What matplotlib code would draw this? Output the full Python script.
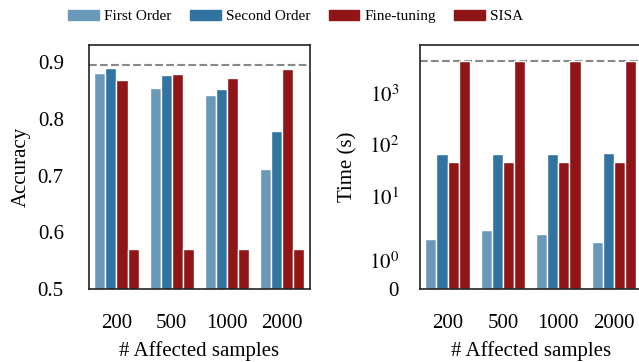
import matplotlib
matplotlib.use('Agg')
import matplotlib.pyplot as plt
import numpy as np
from matplotlib.patches import Patch

plt.rcParams['font.family'] = 'Liberation Serif'
plt.rcParams['mathtext.fontset'] = 'stix'

samples = ['200', '500', '1000', '2000']
methods = ['First Order', 'Second Order', 'Fine-tuning', 'SISA']
colors = ['#6a98b9', '#3274a1', '#8f1517', '#8f1517']

acc_first = [0.881, 0.855, 0.841, 0.712]
acc_second = [0.890, 0.877, 0.852, 0.779]
acc_finetune = [0.869, 0.879, 0.872, 0.887]
acc_sisa = [0.571, 0.571, 0.570, 0.570]
acc_ref = 0.8955

time_first = [1.74, 2.17, 1.93, 1.64]
time_second = [66, 66, 67, 69]
time_finetune = [46, 46, 46, 46]
time_sisa = [4300, 4300, 4300, 4300]
time_ref = 4300

fig = plt.figure(figsize=(6.39, 3.62), dpi=100)
ax1 = fig.add_axes([0.139, 0.2017, 0.346, 0.674])
ax2 = fig.add_axes([0.657, 0.2017, 0.347, 0.674])

x = np.arange(len(samples))
w = 0.2
fs = 15

def draw(ax, series):
    for j, vals in enumerate(series):
        ax.bar(x + (j - 1.5) * w, vals, w, color=colors[j],
               edgecolor='white', linewidth=1)
    ax.set_xlim(-0.5, 3.5)
    ax.set_xticks(x)
    ax.set_xticklabels(samples)
    ax.set_xlabel('# Affected samples', fontsize=fs, labelpad=6)
    ax.tick_params(length=0, labelsize=fs)
    ax.tick_params(axis='x', pad=18)
    for s in ax.spines.values():
        s.set_color('#222222')
        s.set_linewidth(1.2)

draw(ax1, [acc_first, acc_second, acc_finetune, acc_sisa])
ax1.axhline(acc_ref, color='#888888', ls='--', lw=1.5, zorder=0)
ax1.set_ylim(0.5, 0.93)
ax1.set_yticks([0.5, 0.6, 0.7, 0.8, 0.9])
ax1.set_yticklabels(['0.5', '0.6', '0.7', '0.8', '0.9'])
ax1.tick_params(axis='y', pad=18)
ax1.set_ylabel('Accuracy', fontsize=fs, labelpad=5)

draw(ax2, [time_first, time_second, time_finetune, time_sisa])
ax2.set_yscale('symlog', linthresh=2, linscale=1)
ax2.axhline(time_ref, color='#888888', ls='--', lw=1.5, zorder=0)
ax2.set_ylim(0, 8900)
ax2.set_yticks([0, 1, 10, 100, 1000])
ax2.set_yticklabels(['0', '$10^0$', '$10^1$', '$10^2$', '$10^3$'])
ax2.yaxis.set_minor_locator(matplotlib.ticker.NullLocator())
ax2.tick_params(axis='y', pad=15)
ax2.set_ylabel('Time (s)', fontsize=fs, labelpad=8)

handles = [Patch(color=c) for c in colors]
fig.legend(handles, methods, ncol=4, loc='center', bbox_to_anchor=(0.463, 0.955),
           frameon=False, fontsize=11, handlelength=2.0, handleheight=0.65,
           handletextpad=0.35, columnspacing=1.2)

fig.savefig('out.png', dpi=100)
